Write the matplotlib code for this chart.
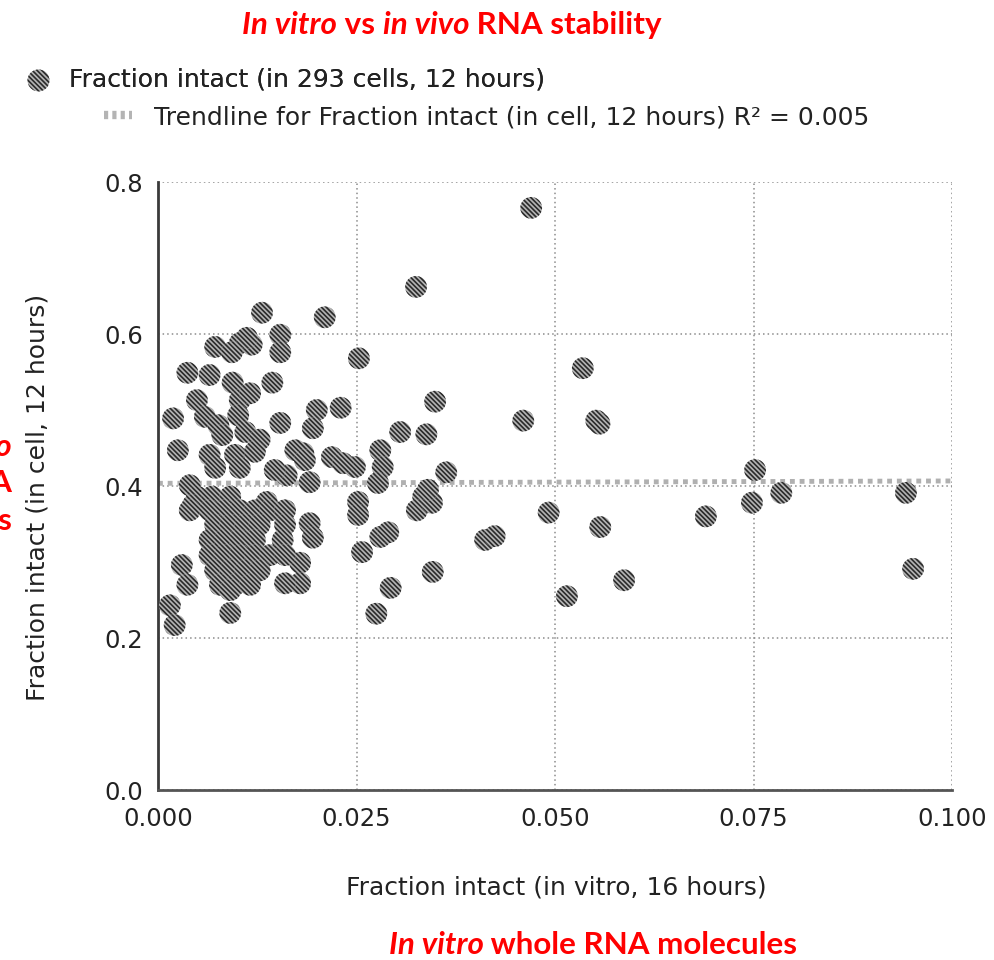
import numpy as np
import matplotlib
matplotlib.use('Agg')
import matplotlib.pyplot as plt
from matplotlib.lines import Line2D

# ---------------- data ----------------
x_vitro = [
    # isolated / spread points
    0.0470, 0.0325, 0.0131, 0.0210, 0.0253, 0.0535, 0.0349, 0.0460, 0.0552, 0.0556,
    0.0338, 0.0305, 0.0363, 0.0752, 0.0785, 0.0748, 0.0690, 0.0492, 0.0557, 0.0942,
    0.0951, 0.0587, 0.0515, 0.0412, 0.0424, 0.0346, 0.0293, 0.0275,
    0.0334, 0.0326, 0.0345, 0.0340,
    # mid region
    0.0200, 0.0230, 0.0195, 0.0183, 0.0219, 0.0248, 0.0233, 0.0280, 0.0283, 0.0277,
    0.0252, 0.0252, 0.0191, 0.0195, 0.0179, 0.0179, 0.0257, 0.0280, 0.0290,
    # upper part of the dense cluster
    0.0072, 0.0103, 0.0118, 0.0093, 0.0154, 0.0154, 0.0112, 0.0037, 0.0065, 0.0094,
    0.0144, 0.0049, 0.0103, 0.0116, 0.0019, 0.0059, 0.0076, 0.0101, 0.0154, 0.0081,
    0.0110, 0.0128, 0.0025, 0.0065, 0.0097, 0.0122, 0.0072, 0.0103, 0.0173, 0.0185,
    0.0162, 0.0191, 0.0147, 0.0040,
    # core of the dense cluster
    0.0049, 0.0068, 0.0091, 0.0137, 0.0044, 0.0040,
    0.0065, 0.0084, 0.0103, 0.0122, 0.0141, 0.0160,
    0.0072, 0.0091, 0.0110, 0.0128, 0.0160,
    0.0065, 0.0084, 0.0103, 0.0122, 0.0157,
    0.0065, 0.0084, 0.0103, 0.0122, 0.0141, 0.0160,
    0.0072, 0.0091, 0.0110, 0.0128, 0.0030,
    0.0078, 0.0097, 0.0116, 0.0037, 0.0160, 0.0091,
    0.0091, 0.0015, 0.0021,
]
y_cell = [
    0.766, 0.662, 0.628, 0.622, 0.568, 0.555, 0.511, 0.486, 0.486, 0.482,
    0.468, 0.471, 0.418, 0.421, 0.391, 0.378, 0.360, 0.365, 0.346, 0.391,
    0.291, 0.276, 0.255, 0.329, 0.334, 0.287, 0.266, 0.232,
    0.386, 0.368, 0.378, 0.395,
    0.500, 0.503, 0.476, 0.443, 0.438, 0.425, 0.430, 0.447, 0.425, 0.404,
    0.379, 0.362, 0.351, 0.332, 0.299, 0.272, 0.313, 0.333, 0.339,
    0.583, 0.588, 0.586, 0.576, 0.599, 0.576, 0.595, 0.549, 0.546, 0.536,
    0.536, 0.513, 0.513, 0.522, 0.489, 0.491, 0.480, 0.493, 0.483, 0.467,
    0.471, 0.461, 0.447, 0.441, 0.441, 0.445, 0.424, 0.424, 0.447, 0.434,
    0.414, 0.405, 0.421, 0.401,
    0.386, 0.386, 0.386, 0.379, 0.375, 0.368,
    0.368, 0.368, 0.368, 0.368, 0.368, 0.368,
    0.349, 0.349, 0.349, 0.349, 0.349,
    0.329, 0.329, 0.329, 0.329, 0.329,
    0.309, 0.309, 0.309, 0.309, 0.309, 0.309,
    0.289, 0.289, 0.289, 0.289, 0.296,
    0.270, 0.270, 0.270, 0.270, 0.272, 0.263,
    0.233, 0.243, 0.217,
]

x_ticks = [0.000, 0.025, 0.050, 0.075, 0.100]
x_tick_labels = ["0.000", "0.025", "0.050", "0.075", "0.100"]
y_ticks = [0.0, 0.2, 0.4, 0.6, 0.8]
y_tick_labels = ["0.0", "0.2", "0.4", "0.6", "0.8"]

scatter_label = "Fraction intact (in 293 cells, 12 hours)"
trend_label = "Trendline for Fraction intact (in cell, 12 hours) R\u00b2 = 0.005"
x_label = "Fraction intact (in vitro, 16 hours)"
y_label = "Fraction intact (in cell, 12 hours)"

title_parts = [("In vitro", "italic"), (" vs ", "normal"), ("in vivo", "italic"), (" RNA stability", "normal")]
bottom_parts = [("In vitro", "italic"), (" whole RNA molecules", "normal")]
left_lines = [[("In vivo", "italic")], [("whole RNA", "normal")], [("molecules", "normal")]]

# ---------------- figure ----------------
W, H = 994, 960
plt.rcParams['font.family'] = ['DejaVu Sans']
plt.rcParams['hatch.color'] = '#2a2a2a'
plt.rcParams['hatch.linewidth'] = 1.2

fig = plt.figure(figsize=(W / 100, H / 100), dpi=100)
ax = fig.add_axes([158 / W, 1 - 790 / H, (952 - 158) / W, (790 - 182) / H])

TXT = '#222222'
GRAY_TXT = 18

ax.set_xlim(0, 0.1)
ax.set_ylim(0, 0.8)
ax.set_xticks(x_ticks)
ax.set_xticklabels(x_tick_labels)
ax.set_yticks(y_ticks)
ax.set_yticklabels(y_tick_labels)
ax.tick_params(length=0, labelsize=17.5, colors=TXT)
ax.tick_params(axis='y', pad=11)
ax.tick_params(axis='x', pad=12)
ax.grid(True, color='#8c8c8c', linestyle=(0, (1, 2)), linewidth=1.1)
ax.set_axisbelow(True)
for s in ['top', 'right']:
    ax.spines[s].set_visible(False)
ax.spines['left'].set_color('#3a3a3a')
ax.spines['left'].set_linewidth(2)
ax.spines['bottom'].set_color('#555555')
ax.spines['bottom'].set_linewidth(2)

sc = ax.scatter(x_vitro, y_cell, s=245, facecolor='#b4b4b4', edgecolors='#2a2a2a',
                linewidths=0.0, hatch='\\\\\\\\\\\\\\', zorder=3, label=scatter_label)

# trend line (least squares fit to the data)
xa = np.array(x_vitro)
ya = np.array(y_cell)
slope, intercept = np.polyfit(xa, ya, 1)
xt = np.array([0.0, 0.1])
trend, = ax.plot(xt, slope * xt + intercept, color='#b0b0b0', linewidth=3.5,
                 linestyle=(0, (1, 1)), zorder=2, label=trend_label)

ax.set_xlabel(x_label, fontsize=GRAY_TXT, color=TXT)
ax.set_ylabel(y_label, fontsize=GRAY_TXT, color=TXT)
ax.xaxis.set_label_coords((556 - 158) / 794, -(876 - 790) / 608)
ax.yaxis.set_label_coords((50 - 158) / 794, (790 - 497) / 608)

# legends
leg1 = fig.legend(handles=[sc], labels=[scatter_label], loc='center left',
                  bbox_to_anchor=(26 / W, 1 - 80 / H), frameon=False, fontsize=GRAY_TXT,
                  handletextpad=0.72, borderpad=0, borderaxespad=0, handlelength=1.0,
                  labelcolor=TXT, scatterpoints=1)
fig.add_artist(leg1)
trend_handle = Line2D([0], [0], color='#b4b4b4', linewidth=6, linestyle=(0, (0.5, 0.5)))
leg2 = fig.legend(handles=[trend_handle], labels=[trend_label], loc='center left',
                  bbox_to_anchor=(104 / W, 1 - 117 / H), frameon=False, fontsize=GRAY_TXT,
                  handletextpad=0.9, borderpad=0, borderaxespad=0, handlelength=1.1,
                  labelcolor=TXT)

# red annotation texts with mixed styles
renderer = fig.canvas.get_renderer()


def rich_text(parts, x_px, y_px, size, ha='center'):
    texts, widths = [], []
    for s, st in parts:
        t = fig.text(0, 0, s, fontsize=size, fontweight='bold', style=st, color='#ff0000',
                     family=['Lato', 'DejaVu Sans'], va='center', ha='left')
        w = t.get_window_extent(renderer).width
        texts.append(t)
        widths.append(w)
    total = sum(widths)
    start = x_px - total / 2 if ha == 'center' else x_px - total
    for t, w in zip(texts, widths):
        t.set_position((start / W, 1 - y_px / H))
        start += w


rich_text(title_parts, 452, 25, 22.6)
rich_text(bottom_parts, 593, 945, 22.6)
for parts, yy in zip(left_lines, [447, 483, 521]):
    rich_text(parts, 12, yy, 22.6, ha='right')

fig.savefig('out.png', dpi=100)
